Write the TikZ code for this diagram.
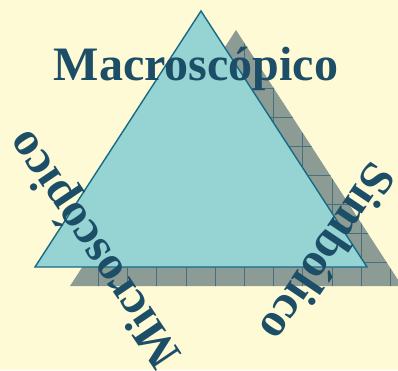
\documentclass[tikz,border=0pt]{standalone}
\usepackage{fontspec}
\setmainfont{Liberation Serif}
\definecolor{bgcol}{HTML}{FFFAD6}
\definecolor{trifill}{HTML}{96D4D3}
\definecolor{tristroke}{HTML}{176A86}
\definecolor{shadowcol}{HTML}{8C9C95}
\definecolor{gridcol}{HTML}{46707C}
\definecolor{txtcol}{HTML}{1D4E68}
\tikzset{
  lbl/.style={text=txtcol, font=\fontsize{48}{50}\selectfont\bfseries, inner sep=0pt, anchor=base},
}
\begin{document}
\begin{tikzpicture}[x=1pt,y=1pt]
\useasboundingbox (0,0) rectangle (398,370);
\clip (0,0) rectangle (398,370);
\fill[bgcol] (0,0) rectangle (398,370);
% shadow triangle
\coordinate (sA) at (236,340);
\coordinate (sB) at (70,84);
\coordinate (sC) at (402,84);
\fill[shadowcol] (sA) -- (sB) -- (sC) -- cycle;
\begin{scope}
\clip (sA) -- (sB) -- (sC) -- cycle;
\foreach \i in {0,...,10} {
  \draw[gridcol, line width=0.8pt] (98.3+29.2*\i,0) -- (98.3+29.2*\i,370);
}
\foreach \j in {0,...,7} {
  \draw[gridcol, line width=0.8pt] (0,282-29*\j) -- (398,282-29*\j);
}
\end{scope}
% front triangle
\coordinate (fA) at (201,359);
\coordinate (fB) at (35,103);
\coordinate (fC) at (367,103);
\draw[tristroke, fill=trifill, line width=1.4pt, line join=miter] (fA) -- (fB) -- (fC) -- cycle;
% labels
\node[lbl] (macro) at (196,289) {Macroscópico};
\node[lbl, rotate=124] (micro) at (106,129) {Microscópico};
\node[lbl, rotate=-124] (simb) at (315,126) {Simbólico};
\end{tikzpicture}
\end{document}
